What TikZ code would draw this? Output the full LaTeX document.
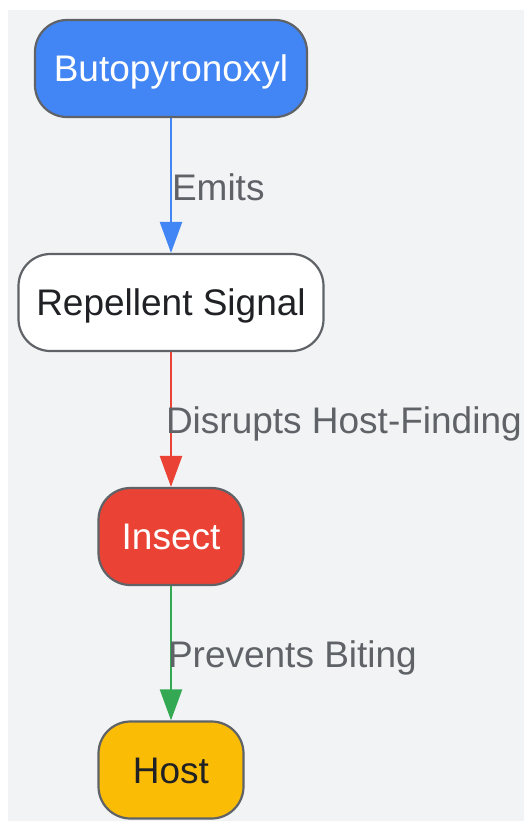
\documentclass[tikz,border=0pt]{standalone}
\usepackage{fontspec}
\setmainfont{Liberation Sans}
\usepackage{tikz}
\usetikzlibrary{arrows.meta}
\definecolor{gblue}{HTML}{4285F4}
\definecolor{gred}{HTML}{EA4335}
\definecolor{ggreen}{HTML}{34A853}
\definecolor{gyellow}{HTML}{FBBC05}
\definecolor{bgcol}{HTML}{F1F3F4}
\definecolor{edgecol}{HTML}{5F6368}
\definecolor{darktext}{HTML}{202124}
\tikzset{every path/.style={line width=2pt}}
\tikzset{box/.style={draw=edgecol,line width=2.2pt,rounded corners=32pt,minimum height=97pt,inner sep=0pt,
  text height=33pt,text depth=7pt,font=\fontsize{37}{44}\selectfont}}
\tikzset{lbl/.style={anchor=base west,inner sep=0pt,text=edgecol,font=\fontsize{37}{44}\selectfont}}
\tikzset{arr/.style={line width=2.4pt,-{Triangle[length=31pt,width=22pt]}}}

\begin{document}
\begin{tikzpicture}[x=1pt,y=-1pt]
\useasboundingbox (0,0) rectangle (524,822);
\fill[bgcol] (8,10) rectangle (524,821);

\node[box,fill=gblue,text=white,minimum width=272pt] (buto) at (171,68.5) {Butopyronoxyl};
\node[box,fill=white,text=darktext,minimum width=305pt] (signal) at (171,302.5) {Repellent Signal};
\node[box,fill=gred,text=white,minimum width=145pt] (insect) at (171,536.5) {Insect};
\node[box,fill=gyellow,text=darktext,minimum width=145pt] (host) at (171,770) {Host};

\draw[arr,gblue] (buto) -- (signal);
\draw[arr,gred] (signal) -- (insect);
\draw[arr,ggreen] (insect) -- (host);

\node[lbl] (emits) at (171,200) {Emits};
\node[lbl] (disrupts) at (165,433) {Disrupts Host-Finding};
\node[lbl] (prevents) at (167,667) {Prevents Biting};
\end{tikzpicture}
\end{document}
